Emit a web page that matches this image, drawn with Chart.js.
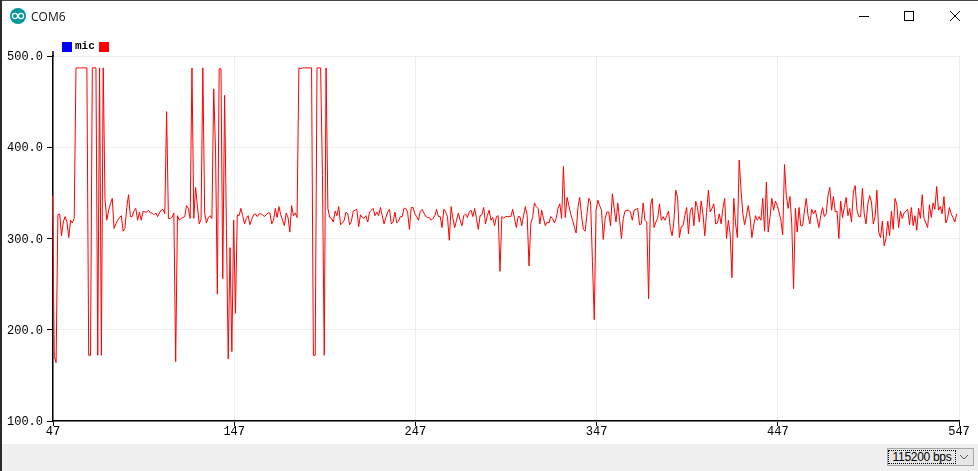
<!DOCTYPE html>
<html>
<head>
<meta charset="utf-8">
<title>COM6</title>
<script src="https://cdn.jsdelivr.net/npm/chart.js@4"></script>
<style>
  html, body { margin: 0; padding: 0; background: #fff; overflow: hidden; }
  #win { position: relative; width: 978px; height: 471px; background: #fff; }
  #plot { position: absolute; left: 0; top: 0; width: 978px; height: 444px; }
  #top-edge { position: absolute; left: 0; top: 0; width: 978px; height: 1px; background: #444; }
  #left-edge { position: absolute; left: 0; top: 0; width: 2px; height: 471px; background: #2b2b2b; }
  #footer { position: absolute; left: 2px; top: 444px; width: 976px; height: 27px; background: #f0f0f0; }
  #icon { position: absolute; left: 10px; top: 8px; }
  #title { position: absolute; left: 31px; top: 8px; font: 12px "Open Sans", sans-serif; color: #111; }
  .ctl { position: absolute; }
  #legend { position: absolute; left: 62px; top: 42px; height: 10px; }
  #legend i { position: absolute; top: 0; width: 10px; height: 10px; }
  #legend span { position: absolute; left: 13px; top: -2px; font: bold 11px "Liberation Mono", monospace; color: #000; }
  #baud { position: absolute; left: 887px; top: 448px; width: 85px; height: 16px; border: 1px solid #a8a8a8; background: #e6e6e6; }
  #baud span { position: absolute; left: 0; top: 1px; height: 12px; width: 66px; border: 1px dotted #000; font: 12px/12px "Liberation Sans", sans-serif; letter-spacing: -0.3px; color: #000; text-align: center; white-space: nowrap; }
</style>
</head>
<body>
<div id="win">
  <canvas id="plot" width="978" height="444"></canvas>
  <div id="top-edge"></div>
  <div id="left-edge"></div>
  <svg id="icon" width="16" height="16" viewBox="0 0 16 16">
    <circle cx="8" cy="8" r="8" fill="#00979c"/>
    <circle cx="5" cy="8" r="2.6" fill="none" stroke="#fff" stroke-width="1.2"/>
    <circle cx="11" cy="8" r="2.6" fill="none" stroke="#fff" stroke-width="1.2"/>
  </svg>
  <div id="title">COM6</div>
  <svg class="ctl" style="left:855px;top:8px" width="110" height="16" viewBox="0 0 110 16" fill="none" stroke="#000" stroke-width="1">
    <path d="M4 8.5H14"/>
    <rect x="49.5" y="3.5" width="9" height="9"/>
    <path d="M95 3L105 13M105 3L95 13"/>
  </svg>
  <div id="legend"><i style="left:0;background:#0000ff"></i><span id="legend-name"></span><i style="left:37px;background:#ff0000"></i></div>
  <div id="footer"></div>
  <div id="baud">
    <span id="baud-text"></span>
    <svg style="position:absolute;left:71px;top:5px" width="10" height="6" viewBox="0 0 10 6" fill="none" stroke="#555"><path d="M1 1L5 5L9 1"/></svg>
  </div>
</div>

<script>
const seriesName = 'mic';
const baudLabel = '115200 bps';

// plotter x axis
const xMin = 47;
const xMax = 547;
const xTicks = [47, 147, 247, 347, 447, 547];

// plotter y axis
const yMin = 100;
const yMax = 500;
const yTicks = [100, 200, 300, 400, 500];

// first reading sits just left of the axis
const firstSample = 46.7;

// readings off the serial plotter, one per sample
const micValues = [
  347,171,164,326,327,303,318,324,318,301,
  320,317,322,487,487,487,487,487,487,487,
  172,172,487,487,487,172,487,172,487,343,
  320,331,338,344,311,316,320,323,325,308,
  311,334,348,324,324,330,333,320,329,320,
  330,329,329,331,328,328,326,328,324,328,
  331,332,327,439,322,322,323,328,165,325,
  320,322,323,324,336,333,322,487,322,356,
  335,316,321,487,328,317,323,325,322,464,
  396,239,486,486,256,457,312,168,290,176,
  320,218,326,325,333,325,316,322,325,315,
  321,326,327,324,327,327,326,324,326,328,
  328,316,320,333,323,335,326,320,314,328,
  323,307,336,325,328,323,487,486,487,487,
  487,487,487,487,172,172,487,487,487,369,
  172,487,333,323,322,318,330,325,335,315,
  317,320,329,327,315,319,330,331,332,313,
  326,323,322,325,318,329,331,333,325,329,
  325,334,325,316,323,329,332,316,318,329,
  317,319,324,324,333,333,329,310,334,334,
  327,324,320,330,332,328,324,323,323,320,
  322,325,332,324,324,312,332,329,324,298,
  335,322,312,320,328,320,314,325,327,323,
  329,331,324,333,322,310,325,326,334,316,
  325,331,320,323,314,324,325,264,324,322,
  324,324,324,324,332,322,312,324,324,314,
  325,335,325,270,317,323,339,335,333,316,
  331,322,314,318,317,324,322,317,322,333,
  338,322,379,323,345,336,327,320,313,306,
  334,345,325,310,308,327,344,340,275,211,
  331,342,336,331,299,322,329,329,314,349,
  333,318,339,320,300,322,330,331,331,329,
  320,331,332,333,315,316,339,320,318,234,
  336,344,312,318,322,338,320,324,320,325,
  330,311,303,320,353,345,301,313,314,325,
  334,305,330,334,314,341,334,318,341,327,
  303,328,353,329,333,338,316,317,327,316,
  333,344,300,320,305,257,344,316,301,386,
  353,327,315,325,336,323,301,314,325,320,
  324,320,344,308,362,307,323,344,331,341,
  336,329,320,304,381,347,333,346,316,245,
  333,307,334,314,314,330,344,325,316,332,
  327,331,322,312,325,334,324,327,347,356,
  331,346,329,330,300,341,323,334,345,325,
  333,318,351,358,331,324,324,355,327,316,
  338,347,340,316,324,353,307,301,319,292,
  300,319,303,330,310,344,337,312,330,322,
  328,330,332,315,334,314,325,309,333,322,
  348,322,317,312,337,323,339,332,357,331,
  335,327,346,317,322,334,327,323,318,327
];

document.getElementById('legend-name').textContent = seriesName;
document.getElementById('baud-text').textContent = baudLabel;

// y axis line pokes a little above the top tick
const axisStub = {
  id: 'axisStub',
  afterDraw(chart) {
    const { ctx, scales: { y } } = chart;
    const top = y.getPixelForValue(yMax);
    ctx.save();
    ctx.strokeStyle = '#000';
    ctx.lineWidth = 1.5;
    ctx.beginPath();
    ctx.moveTo(y.right, top + 1);
    ctx.lineTo(y.right, top - 5);
    ctx.stroke();
    ctx.restore();
  },
};

const tickFont = { family: '"Liberation Mono", monospace', size: 12 };

new Chart(document.getElementById('plot').getContext('2d'), {
  type: 'line',
  data: {
    datasets: [{
      label: seriesName,
      data: micValues.map((v, i) => ({ x: firstSample + i, y: v })),
      borderColor: '#ff0000',
      borderWidth: 1,
      pointRadius: 0,
      tension: 0,
      clip: { left: 1, top: 0, right: 0, bottom: 0 },
    }],
  },
  options: {
    responsive: false,
    animation: false,
    devicePixelRatio: 1,
    layout: { padding: { top: 56, right: 19, left: 0, bottom: 0 } },
    plugins: { legend: { display: false }, tooltip: { enabled: false } },
    scales: {
      x: {
        type: 'linear',
        min: xMin,
        max: xMax,
        afterBuildTicks: s => { s.ticks = xTicks.map(v => ({ value: v })); },
        afterFit: s => { s.height = 23; },
        grid: { color: '#eeeeee', lineWidth: 1, tickColor: '#000', tickLength: 5, tickWidth: 1 },
        border: { color: '#000', width: 1.5 },
        ticks: { color: '#000', font: tickFont, padding: -1, maxRotation: 0, autoSkip: false, callback: v => String(v) },
      },
      y: {
        min: yMin,
        max: yMax,
        afterBuildTicks: s => { s.ticks = yTicks.map(v => ({ value: v })); },
        afterFit: s => { s.width = 53; },
        grid: { color: '#eeeeee', lineWidth: 1, tickColor: '#000', tickLength: 6, tickWidth: 1 },
        border: { color: '#000', width: 1.5 },
        ticks: { color: '#000', font: tickFont, padding: 4, labelOffset: 1, callback: v => v.toFixed(1) },
      },
    },
  },
  plugins: [axisStub],
});
</script>
</body>
</html>
